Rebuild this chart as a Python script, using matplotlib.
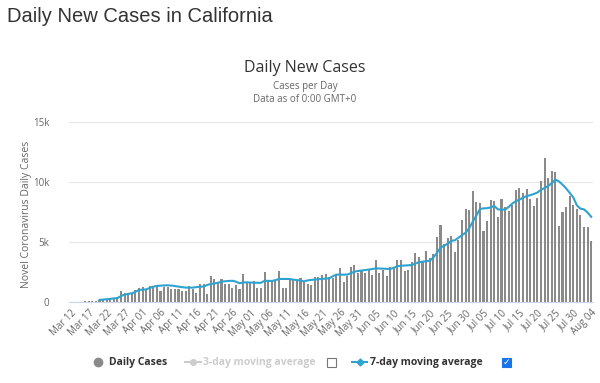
import matplotlib
matplotlib.use('Agg')
import matplotlib.pyplot as plt
from matplotlib.lines import Line2D
from matplotlib.patches import Rectangle
import numpy as np
import pandas as pd

# daily new cases, Mar 12 .. Aug 04
daily_cases = [
    0, 0, 0, 0, 80, 90, 90, 90, 170, 170,
    280, 280, 280, 360, 920, 720, 690, 670, 1000, 1190,
    1250, 1060, 1330, 1330, 1330, 920, 1280, 1280, 1080, 1080,
    1060, 920, 920, 1330, 1080, 720, 1500, 1500, 640, 2200,
    1920, 1560, 1890, 1500, 1500, 1140, 1390, 1080, 2330, 1560,
    1560, 1750, 1190, 1140, 2470, 1750, 1750, 1750, 2550, 1140,
    1190, 1830, 1890, 1830, 1970, 1670, 1500, 1420, 2060, 2060,
    2250, 2330, 2060, 1970, 2330, 2800, 1670, 2190, 2890, 3080,
    2440, 2580, 2440, 2720, 2220, 3500, 2440, 2670, 2200, 2950,
    2800, 3500, 3500, 2560, 2640, 3360, 4060, 3780, 3440, 4280,
    3640, 4000, 5420, 6390, 4830, 5360, 5530, 4190, 5170, 6830,
    7780, 7670, 9280, 8360, 8220, 5920, 6750, 8500, 8440, 7110,
    8610, 7920, 7560, 8110, 9360, 9530, 9110, 9440, 8610, 7970,
    8690, 10110, 12000, 10330, 10940, 10860, 6330, 7500, 7890, 8830,
    8080, 7750, 7250, 6280, 6280, 5080,
]

# 7-day moving average as drawn (starts Mar 20)
avg_start = 8
avg_7day = [
    170, 200, 230, 260, 300, 330, 500, 620, 680, 720,
    850, 1000, 1030, 1050, 1170, 1280, 1340, 1360, 1380, 1390,
    1370, 1330, 1280, 1240, 1200, 1200, 1200, 1240, 1280, 1280,
    1420, 1500, 1540, 1600, 1700, 1730, 1750, 1770, 1700, 1560,
    1630, 1640, 1620, 1610, 1600, 1600, 1770, 1760, 1750, 1820,
    1920, 1920, 1920, 1920, 1860, 1830, 1780, 1720, 1800, 1840,
    1870, 1900, 1920, 1950, 1970, 2150, 2280, 2280, 2280, 2280,
    2400, 2530, 2580, 2620, 2660, 2700, 2750, 2800, 2790, 2780,
    2760, 2750, 2850, 2980, 3020, 3040, 3060, 3080, 3200, 3320,
    3360, 3400, 3440, 3700, 4100, 4520, 4680, 4850, 5100, 5140,
    5350, 5550, 5780, 6150, 6700, 7200, 7760, 7800, 7820, 7880,
    8000, 7720, 7700, 7700, 7920, 8200, 8400, 8530, 8700, 8830,
    8900, 9000, 9120, 9350, 9500, 9670, 9900, 10200, 10050, 9780,
    9470, 9100, 8720, 8050, 7780, 7720, 7450, 7100,
]

dates = pd.date_range('2020-03-12', periods=len(daily_cases), freq='D')
date_labels = [d.strftime('%b %d') for d in dates]

y_ticks = [0, 5000, 10000, 15000]
y_tick_labels = ['0', '5k', '10k', '15k']

bar_color = '#8a8a8a'
line_color = '#2fa3cf'
text_gray = '#666666'

W, H = 600, 383
fig = plt.figure(figsize=(W / 100, H / 100), dpi=100)

def fx(px):
    return px / W

def fy(py):
    return 1 - py / H

ax = fig.add_axes([fx(69), fy(302), fx(593) - fx(69), fy(122) - fy(302)])

x = np.arange(len(daily_cases))
ax.bar(x, daily_cases, width=0.58, color=bar_color, zorder=2)
xa = np.arange(avg_start, avg_start + len(avg_7day))
ax.plot(xa, avg_7day, color=line_color, lw=1.5, zorder=3)

ax.set_xlim(-0.5, len(daily_cases) - 0.5)
ax.set_ylim(0, 15000)
ax.set_yticks(y_ticks)
ax.set_yticklabels(y_tick_labels, fontsize=7, color=text_gray, family='Open Sans')
ax.set_xticks(x[::5])
ax.set_xticklabels(date_labels[::5], rotation=45, ha='right', rotation_mode='anchor',
                   fontsize=7, color=text_gray, family='Open Sans')
ax.tick_params(axis='both', length=0, pad=4)
ax.tick_params(axis='y', pad=14)
ax.grid(axis='y', color='#e6e6e6', lw=0.8, zorder=0)
for s in ['top', 'right', 'left']:
    ax.spines[s].set_visible(False)
ax.spines['bottom'].set_color('#ccd6eb')

fig.text(fx(27), fy(214), 'Novel Coronavirus Daily Cases', fontsize=7.5, color=text_gray,
         family='Open Sans', rotation=90, va='center', ha='center')

# page and chart titles
fig.text(fx(7), fy(17), 'Daily New Cases in California', fontsize=14.5,
         color='#333333', family='Liberation Sans', va='center', ha='left')
fig.text(fx(305), fy(68), 'Daily New Cases', fontsize=11.5, color='#333333',
         family='Open Sans', va='center', ha='center')
fig.text(fx(305), fy(87), 'Cases per Day', fontsize=7, color=text_gray,
         family='Open Sans', va='center', ha='center')
fig.text(fx(305), fy(100), 'Data as of 0:00 GMT+0', fontsize=7, color=text_gray,
         family='Open Sans', va='center', ha='center')

# legend row
ly = fy(362)
fig.add_artist(Line2D([fx(98)], [ly], marker='o', ms=6, color=bar_color,
                      transform=fig.transFigure))
fig.text(fx(109), ly, 'Daily Cases', fontsize=7.5, fontweight='bold', color='#333333',
         family='Open Sans', va='center')
fig.add_artist(Line2D([fx(185), fx(201)], [ly, ly], color='#cccccc', lw=1.5,
                      transform=fig.transFigure))
fig.add_artist(Line2D([fx(193)], [ly], marker='o', ms=4, color='#cccccc',
                      transform=fig.transFigure))
fig.text(fx(203), ly, '3-day moving average', fontsize=7.5, fontweight='bold',
         color='#cccccc', family='Open Sans', va='center')
fig.add_artist(Rectangle((fx(327), fy(367)), fx(9), fy(358) - fy(367), fill=False,
                         ec='#777777', lw=0.8, transform=fig.transFigure))
fig.add_artist(Line2D([fx(352), fx(367)], [ly, ly], color=line_color, lw=1.5,
                      transform=fig.transFigure))
fig.add_artist(Line2D([fx(359.5)], [ly], marker='D', ms=3.5, color=line_color,
                      transform=fig.transFigure))
fig.text(fx(370), ly, '7-day moving average', fontsize=7.5, fontweight='bold',
         color='#333333', family='Open Sans', va='center')
fig.add_artist(Rectangle((fx(502), fy(367)), fx(9), fy(358) - fy(367), fc='#1a73e8',
                         ec='#1a73e8', lw=0.8, transform=fig.transFigure))
fig.text(fx(506.5), fy(362.5), '\u2713', fontsize=6.5, fontweight='bold', color='white',
         family='DejaVu Sans', va='center', ha='center')

fig.savefig('out.png', dpi=100)
